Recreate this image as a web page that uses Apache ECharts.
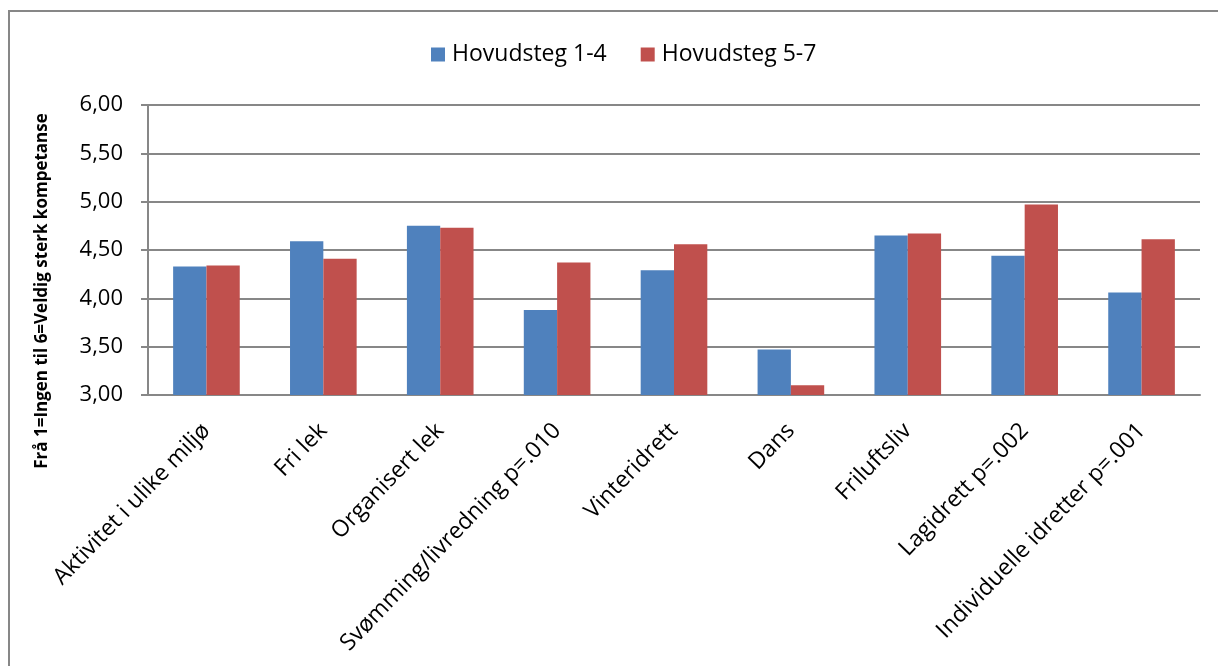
<!DOCTYPE html>
<html>
<head>
<meta charset="utf-8">
<script src="https://cdn.jsdelivr.net/npm/echarts@6/dist/echarts.min.js"></script>
<style>
  html, body { margin: 0; padding: 0; background: #fff; }
  #chart { width: 1218px; height: 666px; }
</style>
</head>
<body>
<div id="chart"></div>
<script>
const categories = [
  'Aktivitet i ulike miljø',
  'Fri lek',
  'Organisert lek',
  'Svømming/livredning p=.010',
  'Vinteridrett',
  'Dans',
  'Friluftsliv',
  'Lagidrett p=.002',
  'Individuelle idretter p=.001'
]
const seriesNames = ['Hovudsteg 1-4', 'Hovudsteg 5-7']
const steg14 = [4.33, 4.59, 4.75, 3.88, 4.29, 3.47, 4.65, 4.44, 4.06]
const steg57 = [4.34, 4.41, 4.73, 4.37, 4.56, 3.10, 4.67, 4.97, 4.61]
const yTicks = [3, 6, 0.5] // min, max, step
const yTitle = 'Frå 1=Ingen til 6=Veldig sterk kompetanse'

const font = 'Open Sans'
const gray = '#878787'

let myChart = echarts.init(document.getElementById('chart'))

myChart.setOption({
  animation: false,
  textStyle: { fontFamily: font },
  color: ['#4F81BD', '#C0504D'],
  graphic: [
    {
      // frame around the chart
      type: 'rect',
      shape: { x: 9, y: 11, width: 1240, height: 700 },
      style: { fill: 'none', stroke: gray, lineWidth: 2 },
      silent: true
    },
    {
      type: 'text',
      x: 42,
      y: 291,
      rotation: Math.PI / 2,
      style: {
        text: yTitle,
        font: 'bold 17px "Open Sans"',
        fill: '#000',
        align: 'center',
        verticalAlign: 'middle'
      }
    }
  ],
  legend: {
    data: seriesNames,
    top: 38,
    left: 426,
    itemWidth: 14,
    itemHeight: 14,
    itemGap: 34,
    icon: 'rect',
    textStyle: { fontSize: 23, color: '#000', fontFamily: font, padding: [0, 0, 0, 2] }
  },
  grid: {
    left: 148,
    right: 18,
    top: 105,
    bottom: 271
  },
  xAxis: {
    type: 'category',
    data: categories,
    axisLine: { lineStyle: { color: gray, width: 2 } },
    axisTick: { length: 7, lineStyle: { color: gray, width: 2 } },
    axisLabel: {
      rotate: 46,
      interval: 0,
      margin: 32,
      fontSize: 23,
      color: '#000'
    }
  },
  yAxis: {
    type: 'value',
    min: yTicks[0],
    max: yTicks[1],
    interval: yTicks[2],
    axisLine: { show: true, lineStyle: { color: gray, width: 2 } },
    axisTick: { show: true, length: 7, lineStyle: { color: gray, width: 2 } },
    splitLine: { lineStyle: { color: gray, width: 2 } },
    axisLabel: {
      margin: 25,
      fontSize: 22,
      color: '#000',
      formatter: v => v.toFixed(2).replace('.', ',')
    }
  },
  series: [
    {
      name: seriesNames[0],
      type: 'bar',
      data: steg14,
      barGap: '0%',
      barCategoryGap: '43%'
    },
    {
      name: seriesNames[1],
      type: 'bar',
      data: steg57,
      barGap: '0%',
      barCategoryGap: '43%'
    }
  ]
})
</script>
</body>
</html>
